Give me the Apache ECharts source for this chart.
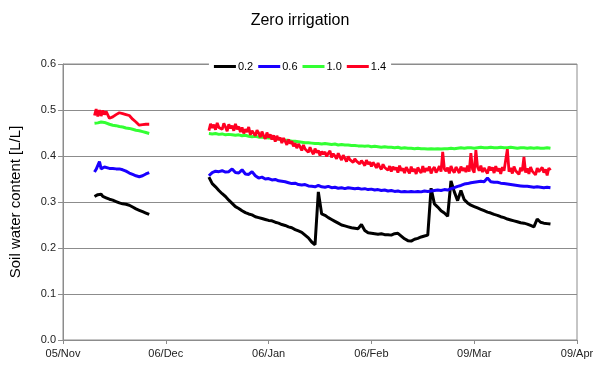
<!DOCTYPE html>
<html><head><meta charset="utf-8">
<script src="https://cdn.jsdelivr.net/npm/echarts@6/dist/echarts.min.js"></script>
<style>html,body{margin:0;padding:0;background:#fff}#c{width:600px;height:389px}</style>
</head><body><div id="c"></div>
<script>
// x positions: days since 05/Nov
var tickLabels = ['05/Nov','06/Dec','06/Jan','06/Feb','09/Mar','09/Apr'];
var seriesNames = ['0.2','0.6','1.0','1.4'];

var daysS1 = [9.5,10,10.5,11,11.5,12,12.5,13,14,15,16,17,18,19,20,21,22,23,24,25,26];
var s02_1 = [0.312,0.314,0.316,0.314,0.317,0.312,0.311,0.309,0.306,0.304,0.301,0.298,0.296,0.295,0.293,0.289,0.285,0.282,0.279,0.276,0.273];
var s06_1 = [0.365,0.371,0.372,0.388,0.372,0.373,0.376,0.374,0.373,0.373,0.372,0.372,0.370,0.367,0.363,0.360,0.357,0.355,0.357,0.361,0.364];
var s10_1 = [0.471,0.475,0.472,0.470,0.474,0.471,0.473,0.470,0.469,0.467,0.466,0.464,0.463,0.461,0.460,0.458,0.456,0.455,0.453,0.451,0.449];
var s14_1 = [0.488,0.502,0.486,0.500,0.487,0.499,0.490,0.497,0.482,0.485,0.490,0.494,0.492,0.490,0.488,0.480,0.474,0.467,0.468,0.469,0.469];

var daysS2 = [44,45,46,47,48,49,50,51,52,53,54,55,56,57,58,59,60,61,62,63,64,65,66,67,68,69,70,71,72,73,74,75,76,77,78,79,80,81,82,83,84,85,86,87,88,89,90,91,92,93,94,95,96,97,98,99,100,101,102,103,104,105,106,107,108,109,110,111,112,113,114,115,116,117,118,119,120,121,122,123,124,125,126,127,128,129,130,131,132,133,134,135,136,137,138,139,140,141,142,143,144,145,146,147];
var s02_2 = [0.354,0.340,0.333,0.325,0.318,0.312,0.304,0.297,0.290,0.286,0.281,0.277,0.274,0.272,0.268,0.266,0.264,0.262,0.260,0.259,0.256,0.254,0.251,0.249,0.246,0.244,0.240,0.237,0.234,0.228,0.222,0.213,0.207,0.322,0.274,0.271,0.266,0.262,0.258,0.254,0.250,0.248,0.246,0.244,0.243,0.242,0.251,0.238,0.233,0.232,0.231,0.230,0.231,0.229,0.229,0.228,0.231,0.232,0.226,0.220,0.216,0.215,0.219,0.221,0.224,0.226,0.228,0.330,0.296,0.289,0.281,0.276,0.269,0.346,0.322,0.303,0.325,0.305,0.298,0.293,0.290,0.287,0.284,0.281,0.278,0.276,0.273,0.271,0.268,0.266,0.263,0.261,0.259,0.257,0.255,0.254,0.252,0.249,0.246,0.263,0.256,0.254,0.253,0.252];
var s06_2 = [0.357,0.364,0.367,0.366,0.368,0.365,0.366,0.372,0.364,0.363,0.370,0.361,0.360,0.366,0.357,0.352,0.354,0.350,0.351,0.348,0.349,0.346,0.345,0.344,0.342,0.340,0.341,0.338,0.337,0.338,0.335,0.334,0.333,0.336,0.333,0.332,0.334,0.331,0.332,0.330,0.331,0.329,0.331,0.330,0.329,0.330,0.328,0.329,0.327,0.328,0.326,0.327,0.325,0.326,0.324,0.325,0.323,0.324,0.322,0.323,0.322,0.323,0.322,0.323,0.322,0.324,0.323,0.324,0.325,0.326,0.325,0.327,0.326,0.329,0.331,0.334,0.336,0.339,0.340,0.342,0.343,0.344,0.345,0.344,0.352,0.344,0.343,0.343,0.341,0.340,0.339,0.338,0.337,0.336,0.335,0.334,0.334,0.333,0.332,0.333,0.332,0.331,0.332,0.331];
var s10_2 = [0.449,0.448,0.449,0.447,0.448,0.446,0.447,0.446,0.445,0.446,0.444,0.445,0.443,0.442,0.443,0.441,0.441,0.440,0.439,0.439,0.437,0.437,0.436,0.434,0.434,0.432,0.432,0.431,0.430,0.429,0.429,0.428,0.427,0.427,0.426,0.427,0.426,0.425,0.426,0.424,0.425,0.424,0.424,0.423,0.423,0.422,0.422,0.421,0.422,0.420,0.421,0.420,0.419,0.420,0.419,0.419,0.418,0.419,0.417,0.418,0.417,0.417,0.416,0.417,0.416,0.416,0.415,0.416,0.415,0.416,0.415,0.416,0.416,0.417,0.416,0.417,0.418,0.417,0.418,0.418,0.417,0.418,0.419,0.418,0.418,0.419,0.418,0.418,0.419,0.418,0.418,0.419,0.418,0.417,0.418,0.418,0.417,0.418,0.417,0.418,0.417,0.417,0.418,0.417];

// 1.4 m sensor logged at half-day resolution in the second period
var daysR2 = [
  44,44.5,45,45.5,46,46.5,47,47.5,48,48.5, 49,49.5,50,50.5,51,51.5,52,52.5,53,53.5,
  54,54.5,55,55.5,56,56.5,57,57.5,58,58.5, 59,59.5,60,60.5,61,61.5,62,62.5,63,63.5,
  64,64.5,65,65.5,66,66.5,67,67.5,68,68.5, 69,69.5,70,70.5,71,71.5,72,72.5,73,73.5,
  74,74.5,75,75.5,76,76.5,77,77.5,78,78.5, 79,79.5,80,80.5,81,81.5,82,82.5,83,83.5,
  84,84.5,85,85.5,86,86.5,87,87.5,88,88.5, 89,89.5,90,90.5,91,91.5,92,92.5,93,93.5,
  94,94.5,95,95.5,96,96.5,97,97.5,98,98.5, 99,99.5,100,100.5,101,101.5,102,102.5,103,103.5,
  104,104.5,105,105.5,106,106.5,107,107.5,108,108.5, 109,109.5,110,110.5,111,111.5,112,112.5,113,113.5,
  114,114.5,115,115.5,116,116.5,117,117.5,118,118.5, 119,119.5,120,120.5,121,121.5,122,122.5,123,123.5,
  124,124.5,125,125.5,126,126.5,127,127.5,128,128.5, 129,129.5,130,130.5,131,131.5,132,132.5,133,133.5,
  134,134.5,135,135.5,136,136.5,137,137.5,138,138.5, 139,139.5,140,140.5,141,141.5,142,142.5,143,143.5,
  144,144.5,145,145.5,146,146.5,147];
var s14_2 = [
  0.455,0.470,0.461,0.468,0.457,0.472,0.462,0.466,0.458,0.471, 0.463,0.454,0.469,0.460,0.466,0.455,0.470,0.458,0.464,0.452,
  0.462,0.449,0.458,0.452,0.463,0.446,0.455,0.459,0.444,0.456, 0.450,0.441,0.453,0.444,0.437,0.451,0.440,0.447,0.436,0.445,
  0.431,0.444,0.435,0.440,0.428,0.439,0.432,0.424,0.436,0.427, 0.432,0.421,0.428,0.417,0.426,0.420,0.412,0.424,0.415,0.419,
  0.408,0.419,0.410,0.404,0.416,0.407,0.412,0.401,0.410,0.404, 0.409,0.399,0.406,0.411,0.397,0.405,0.400,0.394,0.406,0.398,
  0.391,0.402,0.395,0.388,0.399,0.392,0.396,0.386,0.394,0.389, 0.393,0.383,0.390,0.385,0.379,0.391,0.382,0.387,0.377,0.386,
  0.381,0.374,0.385,0.376,0.371,0.382,0.375,0.379,0.369,0.378, 0.366,0.377,0.370,0.375,0.364,0.379,0.368,0.373,0.363,0.376,
  0.369,0.362,0.377,0.366,0.372,0.361,0.375,0.368,0.363,0.378, 0.365,0.373,0.368,0.377,0.362,0.371,0.376,0.364,0.370,0.378,
  0.366,0.409,0.372,0.367,0.375,0.362,0.378,0.369,0.364,0.376, 0.370,0.363,0.377,0.368,0.374,0.365,0.379,0.366,0.406,0.371,
  0.364,0.413,0.376,0.368,0.379,0.365,0.374,0.370,0.362,0.377, 0.369,0.375,0.363,0.378,0.367,0.373,0.361,0.376,0.368,0.372,
  0.415,0.366,0.374,0.362,0.377,0.368,0.371,0.360,0.375,0.367, 0.398,0.364,0.373,0.361,0.376,0.367,0.370,0.359,0.374,0.366,
  0.362,0.375,0.364,0.371,0.358,0.374,0.369];

function build(d1, v1, d2, v2) {
  var out = [];
  for (var i = 0; i < d1.length; i++) out.push([d1[i], v1[i]]);
  out.push([35, '-']);
  for (var j = 0; j < d2.length; j++) out.push([d2[j], v2[j]]);
  return out;
}
var colors = ['#000000', '#1a00ff', '#33ff33', '#ff0022'];
var parts = [
  [daysS1, s02_1, daysS2, s02_2],
  [daysS1, s06_1, daysS2, s06_2],
  [daysS1, s10_1, daysS2, s10_2],
  [daysS1, s14_1, daysR2, s14_2]
];
var widths = [3, 3, 3, 2.8];
var font = 'Liberation Sans, Arial, sans-serif';

var chart = echarts.init(document.getElementById('c'), null, {renderer: 'canvas'});
chart.setOption({
  animation: false,
  backgroundColor: '#fff',
  title: {text: 'Zero irrigation', left: 'center', top: 8,
    textStyle: {fontFamily: font, fontSize: 16, fontWeight: 'normal', color: '#000'}},
  legend: {
    data: seriesNames, top: 61, left: 'center', icon: 'rect', itemWidth: 22, itemHeight: 3,
    itemGap: 5, backgroundColor: '#fff', padding: [0, 5],
    textStyle: {fontFamily: font, fontSize: 11, color: '#000', padding: [0, 0, 0, -3]}
  },
  grid: {left: 61, right: 23, top: 64, bottom: 49, show: true, borderColor: '#8c8c8c', borderWidth: 1},
  xAxis: {
    type: 'value', min: 0, max: 155, interval: 31,
    axisLine: {lineStyle: {color: '#8c8c8c'}},
    axisTick: {show: true, length: 4, lineStyle: {color: '#8c8c8c'}},
    splitLine: {show: false},
    axisLabel: {fontFamily: font, fontSize: 11, color: '#222', margin: 8,
      formatter: function (v) { var k = Math.round(v / 31); return Math.abs(v - k * 31) < 0.01 ? (tickLabels[k] || '') : ''; }}
  },
  yAxis: {
    type: 'value', min: 0, max: 0.6, interval: 0.1,
    name: 'Soil water content [L/L]', nameLocation: 'middle', nameGap: 40,
    nameTextStyle: {fontFamily: font, fontSize: 15, color: '#000'},
    axisLine: {show: true, lineStyle: {color: '#8c8c8c'}},
    axisTick: {show: true, length: 5, lineStyle: {color: '#8c8c8c'}},
    splitLine: {show: true, lineStyle: {color: '#8c8c8c', width: 1}},
    axisLabel: {fontFamily: font, fontSize: 11, color: '#222', margin: 7,
      formatter: function (v) { return v.toFixed(1); }}
  },
  series: seriesNames.map(function (n, i) {
    var p = parts[i];
    return {
      name: n, type: 'line', showSymbol: false, symbol: 'none', connectNulls: false,
      color: colors[i],
      lineStyle: {color: colors[i], width: widths[i]},
      data: build(p[0], p[1], p[2], p[3])
    };
  })
});
</script></body></html>
